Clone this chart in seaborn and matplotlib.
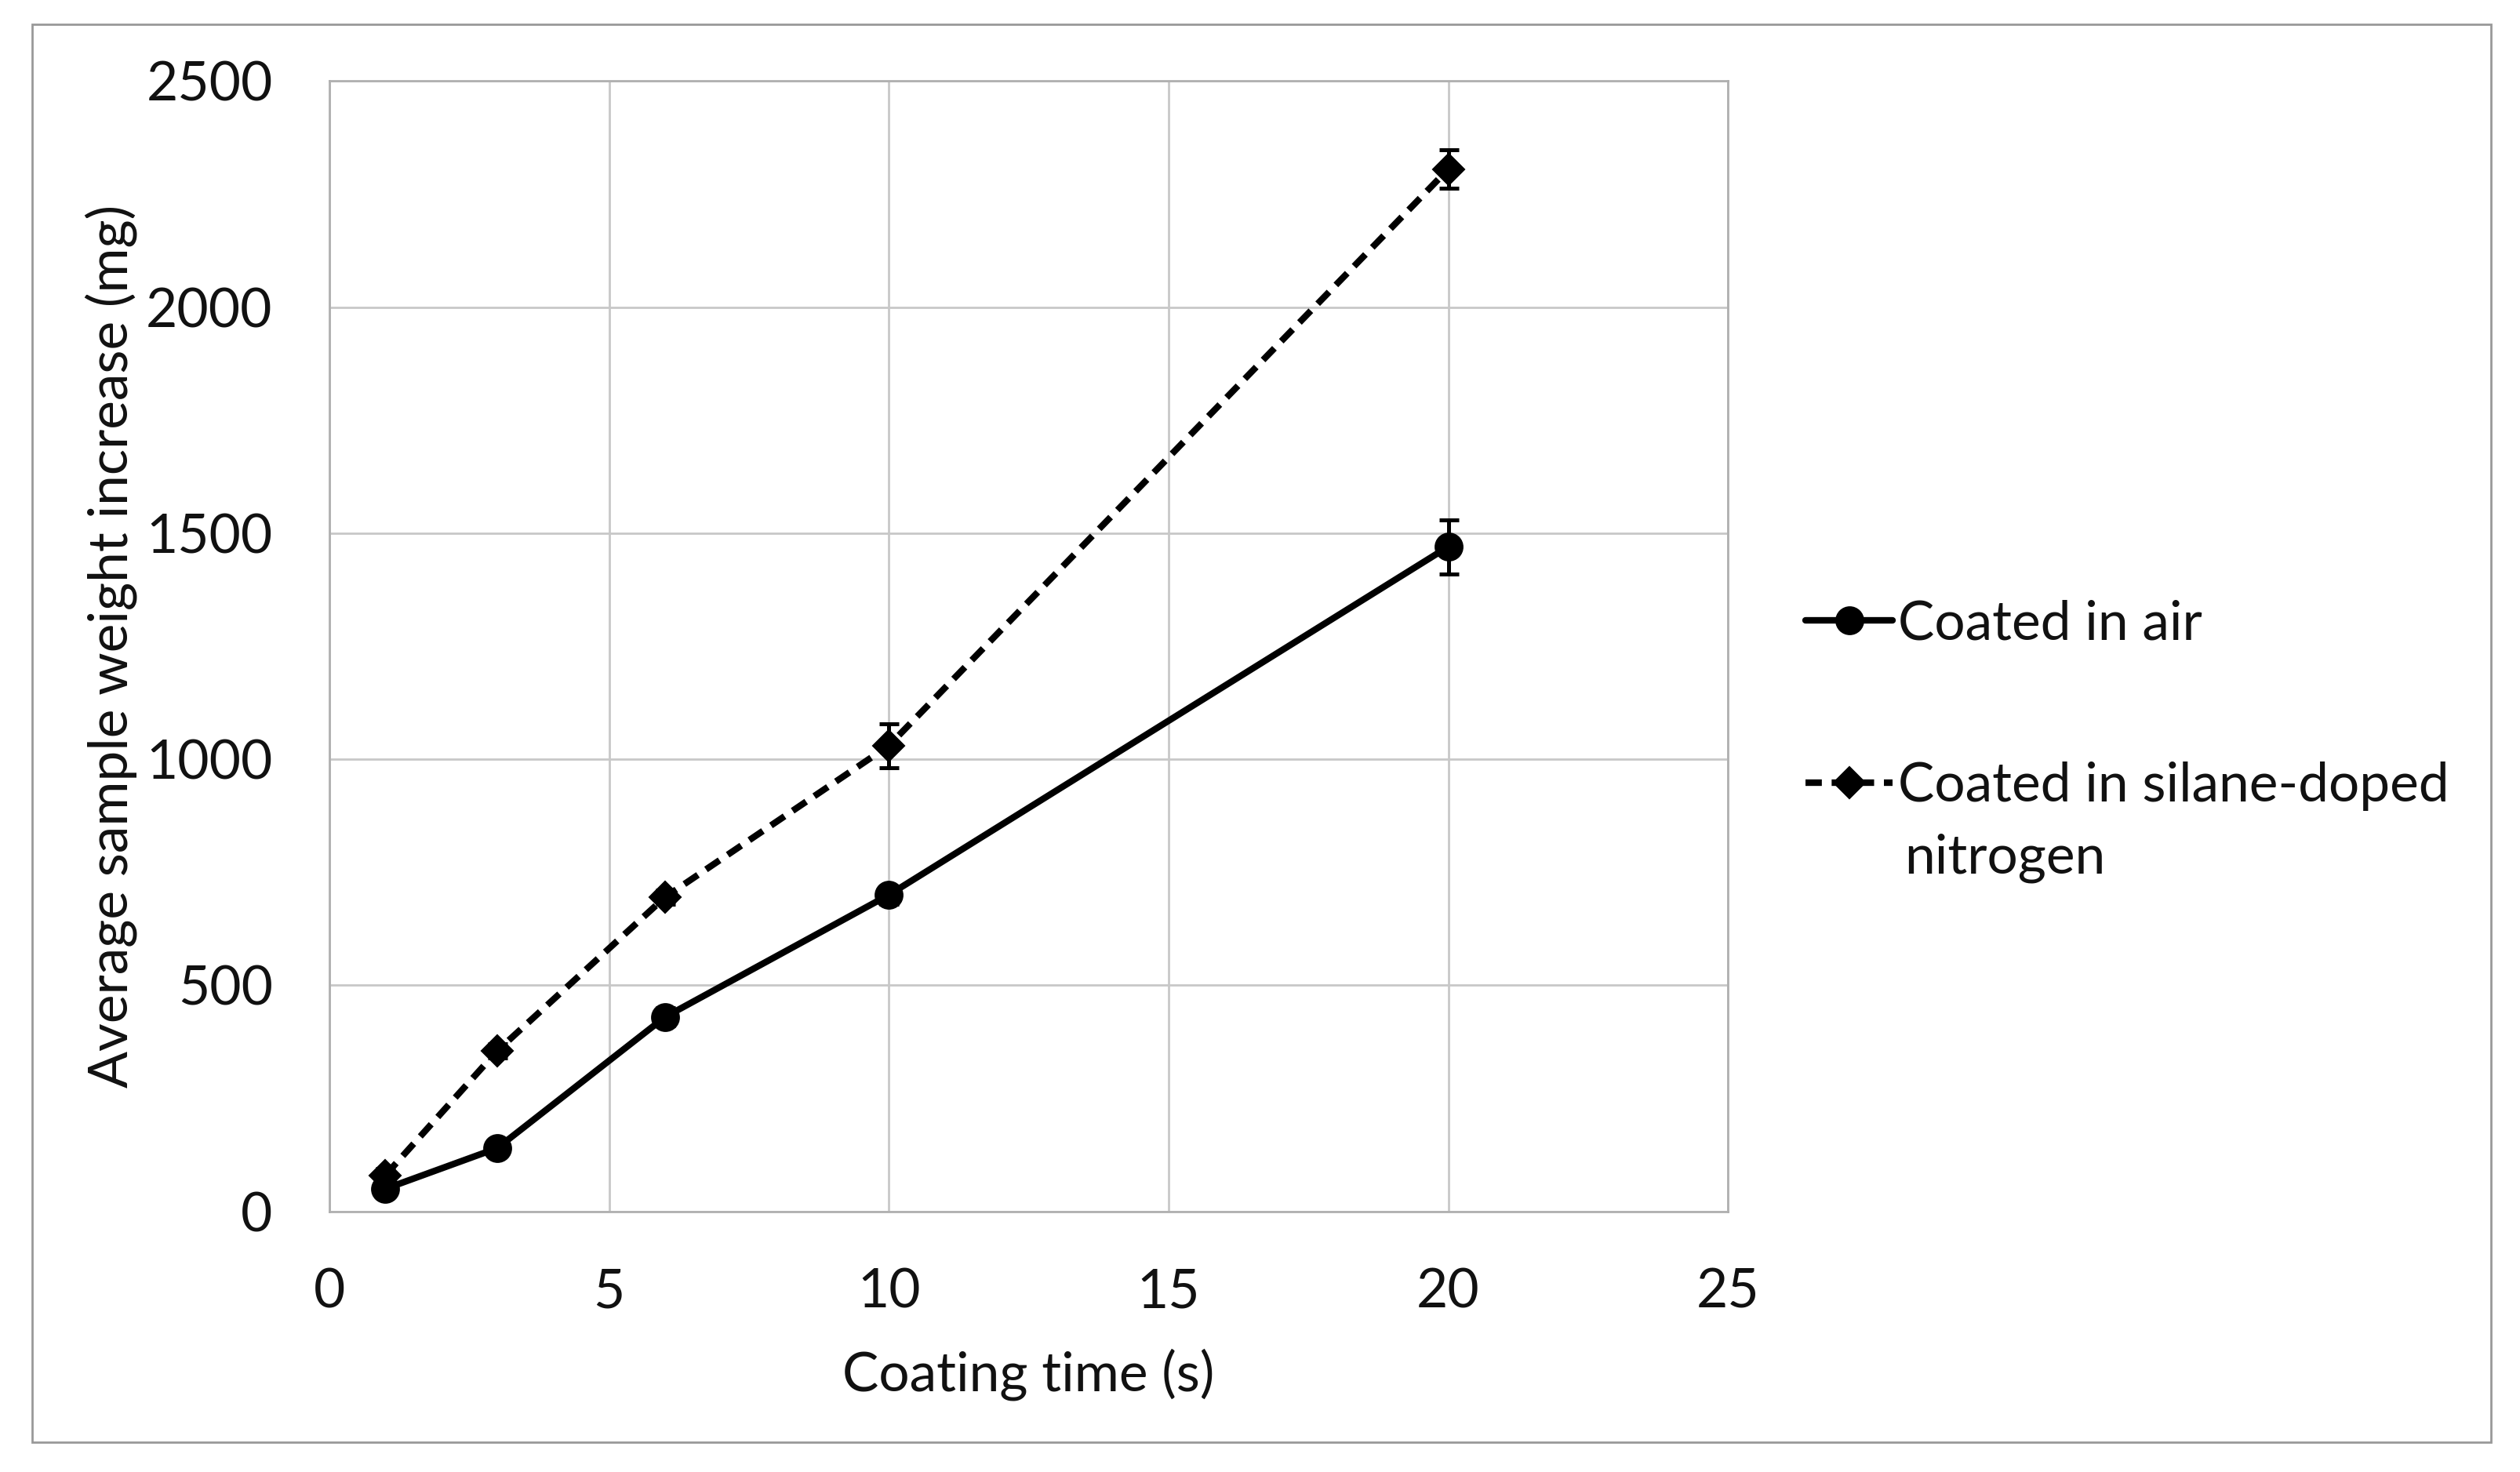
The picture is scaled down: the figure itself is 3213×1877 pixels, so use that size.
import numpy as np
import pandas as pd
import matplotlib
matplotlib.use('Agg')
import matplotlib.pyplot as plt
import seaborn as sns
from matplotlib.patches import Rectangle

sns.set_theme(style='white')
plt.rcParams['font.family'] = ['Lato', 'DejaVu Sans']

coating_time = [1, 3, 6, 10, 20]
air_weight = [50, 140, 430, 700, 1470]
air_err = [15, 15, 20, 20, 60]
silane_weight = [80, 355, 695, 1030, 2305]
silane_err = [15, 15, 15, 48, 43]
series_names = ['Coated in air', 'Coated in silane-doped']

df = pd.DataFrame({
    'time': coating_time * 2,
    'weight': air_weight + silane_weight,
    'series': [series_names[0]] * 5 + [series_names[1]] * 5,
})

fig = plt.figure(figsize=(16.065, 9.385), dpi=200)
ax = fig.add_axes([0.1307, 0.177, 0.555, 0.768])

sns.lineplot(data=df, x='time', y='weight', style='series', ax=ax,
             markers={series_names[0]: 'o', series_names[1]: 'D'},
             dashes={series_names[0]: '', series_names[1]: (2.5, 1.5)},
             color='black', linewidth=3.0, markersize=12.5,
             markeredgecolor='black', estimator=None)
for line in ax.lines:
    if line.get_marker() == 'D':
        line.set_markersize(10)

ax.errorbar(coating_time, air_weight, yerr=air_err, fmt='none',
            ecolor='black', elinewidth=1.8, capsize=4.5, capthick=1.8)
ax.errorbar(coating_time, silane_weight, yerr=silane_err, fmt='none',
            ecolor='black', elinewidth=1.8, capsize=4.5, capthick=1.8)

ax.set_xlim(0, 25)
ax.set_ylim(0, 2500)
ax.set_xticks(range(0, 26, 5))
ax.set_yticks(range(0, 2501, 500))
ax.grid(True, color='#c8c8c8', linewidth=1.0)
for s in ax.spines.values():
    s.set_color('#b0b0b0')
    s.set_linewidth(1.0)
ax.tick_params(axis='both', labelsize=25, length=0, colors='#111111')
ax.tick_params(axis='x', pad=26)
ax.tick_params(axis='y', pad=26)
ax.set_xlabel('Coating time (s)', fontsize=25, color='#111111', labelpad=14)
ax.set_ylabel('Average sample weight increase (mg)', fontsize=25, color='#111111', labelpad=4)

handles, labels = ax.get_legend_handles_labels()
ax.legend(handles, labels, loc='center left', bbox_to_anchor=(1.04, 0.448),
          frameon=False, fontsize=25, handlelength=1.6, handletextpad=0.1,
          labelspacing=2.07, borderaxespad=0, labelcolor='#111111')
# second line of the wrapped legend label
fig.text(0.7557, 0.417, 'nitrogen', fontsize=25, color='#111111',
         ha='left', va='center')

fig.patches.append(Rectangle((0.0128, 0.02), 0.9758, 0.9635, transform=fig.transFigure,
                             fill=False, edgecolor='#999999', linewidth=1.0))

fig.savefig('out.png', dpi=200, facecolor='white')
